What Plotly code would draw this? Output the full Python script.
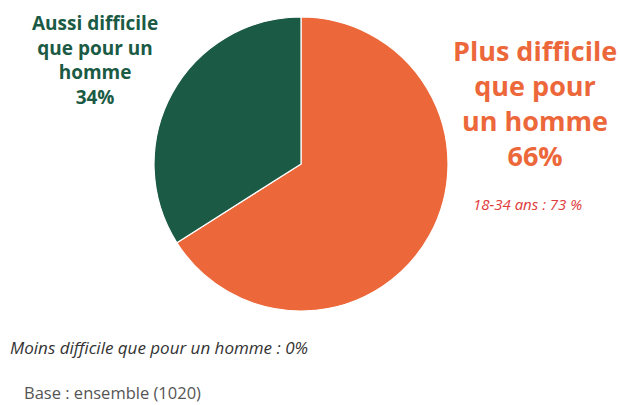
import plotly.graph_objects as go

# data
labels = ["Plus difficile que pour un homme", "Aussi difficile que pour un homme"]
values = [66, 34]
colors = ["#EC673A", "#1B5A44"]
sub_note = "18-34 ans : 73 %"
other_note = "Moins difficile que pour un homme : 0%"
base_note = "Base : ensemble (1020)"

W, H = 619, 405
FONT = "'Open Sans', 'Noto Sans', sans-serif"

fig = go.Figure()
fig.add_trace(go.Pie(
    labels=labels,
    values=values,
    sort=False,
    direction="clockwise",
    rotation=0,
    marker=dict(colors=colors, line=dict(color="white", width=1.2)),
    textinfo="none",
    hoverinfo="label+percent",
    showlegend=False,
    domain=dict(x=[154 / W, 448 / W], y=[1 - 312 / H, 1 - 16 / H]),
))


def px(x, y):
    return x / W, 1 - y / H


anns = []
# green label (left)
gx, gy = px(95, 60)
anns.append(dict(
    x=gx, y=gy, xref="paper", yref="paper", xanchor="center", yanchor="middle",
    text="<b>Aussi difficile<br>que pour un<br>homme<br>%d%%</b>" % values[1],
    showarrow=False, align="center",
    font=dict(family=FONT, size=19, color=colors[1]),
))
# orange label (right)
ox, oy = px(535, 103)
anns.append(dict(
    x=ox, y=oy, xref="paper", yref="paper", xanchor="center", yanchor="middle",
    text="<b>Plus difficile<br>que pour<br>un homme<br>%d%%</b>" % values[0],
    showarrow=False, align="center",
    font=dict(family=FONT, size=27, color=colors[0]),
))
sx, sy = px(527, 204)
anns.append(dict(
    x=sx, y=sy, xref="paper", yref="paper", xanchor="center", yanchor="middle",
    text="<i>%s</i>" % sub_note, showarrow=False,
    font=dict(family=FONT, size=15, color="#E03A3A"),
))
mx, my = px(8, 347)
anns.append(dict(
    x=mx, y=my, xref="paper", yref="paper", xanchor="left", yanchor="middle",
    text="<i>%s</i>" % other_note, showarrow=False,
    font=dict(family=FONT, size=17, color="#333333"),
))
bx, by = px(22, 392)
anns.append(dict(
    x=bx, y=by, xref="paper", yref="paper", xanchor="left", yanchor="middle",
    text=base_note, showarrow=False,
    font=dict(family=FONT, size=16.5, color="#555555"),
))

fig.update_layout(
    width=W, height=H,
    margin=dict(l=0, r=0, t=0, b=0),
    paper_bgcolor="white",
    plot_bgcolor="white",
    annotations=anns,
)

fig.write_html(
    "out.html",
    config={"displayModeBar": False},
    post_script="document.body.style.margin='0px';",
)
